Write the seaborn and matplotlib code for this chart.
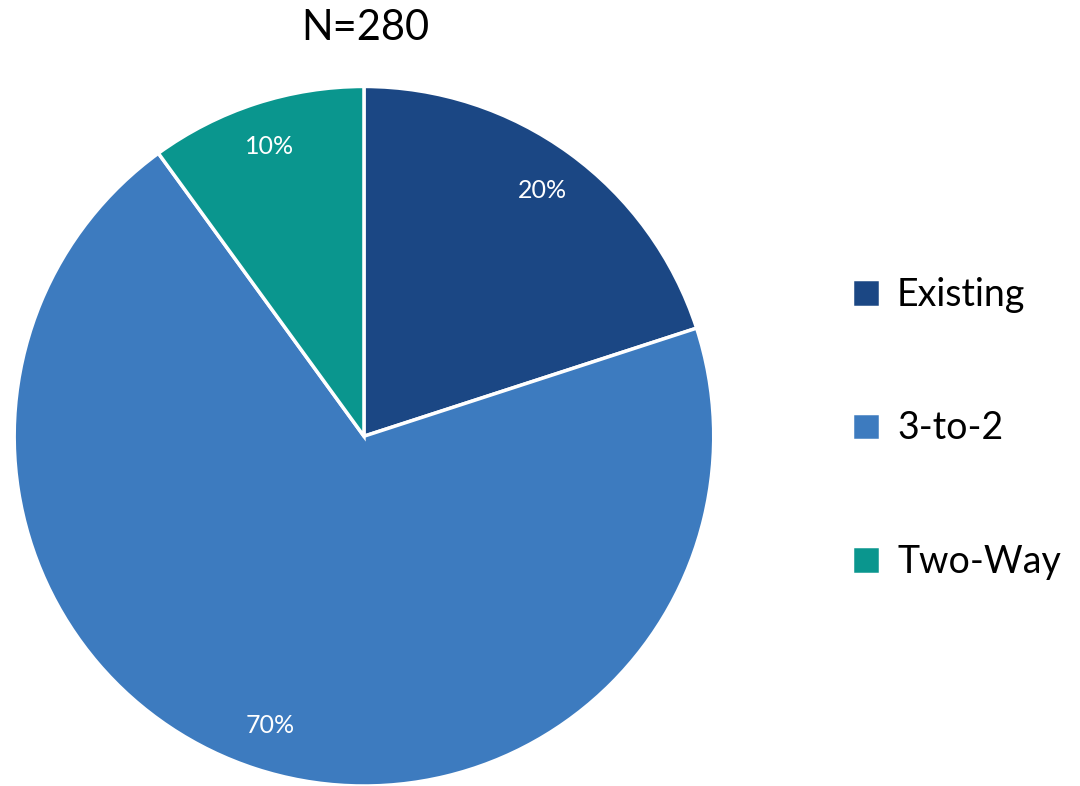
import matplotlib
matplotlib.use("Agg")
import matplotlib.pyplot as plt
import seaborn as sns

categories = ["Existing", "3-to-2", "Two-Way"]
shares = [20, 70, 10]
colors = ["#1b4784", "#3d7bbf", "#0a968e"]
n_total = 280

sns.set_theme(style="white")
plt.rcParams["font.family"] = ["Lato", "DejaVu Sans"]

fig = plt.figure(figsize=(10.8, 7.86), dpi=100)
ax = fig.add_axes([0.013, 0.0, 0.648, 0.89])
wedges, texts, autotexts = ax.pie(
    shares,
    colors=colors,
    startangle=90,
    counterclock=False,
    autopct="%1.0f%%",
    pctdistance=0.87,
    wedgeprops={"edgecolor": "white", "linewidth": 2.5},
    textprops={"color": "white", "fontsize": 18},
)
ax.set_xlim(-1, 1)
ax.set_ylim(-1, 1)
ax.set_aspect("equal")

fig.text(0.338, 0.964, f"N={n_total}", ha="center", va="center", fontsize=30, color="black")

leg = fig.legend(wedges, categories, loc="center left", bbox_to_anchor=(0.789, 0.455),
                 frameon=False, fontsize=27, handlelength=0.75, handleheight=0.75,
                 labelspacing=2.6, handletextpad=0.45, borderpad=0, borderaxespad=0)
for t in leg.get_texts():
    t.set_color("black")

plt.savefig("out.png", dpi=100)
